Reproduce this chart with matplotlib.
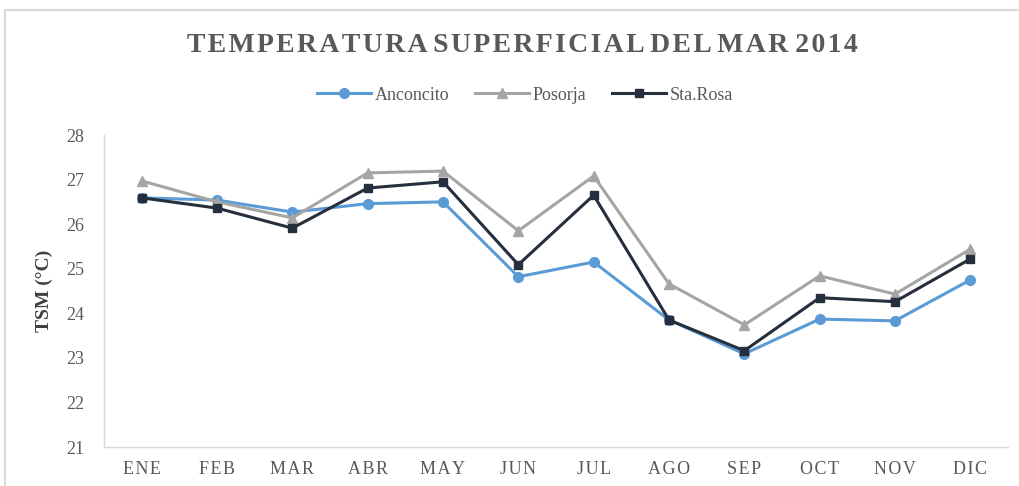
import matplotlib
matplotlib.use('Agg')
import matplotlib.pyplot as plt
from matplotlib.patches import Rectangle

meses = ['ENE', 'FEB', 'MAR', 'ABR', 'MAY', 'JUN', 'JUL', 'AGO', 'SEP', 'OCT', 'NOV', 'DIC']
anconcito = [26.59, 26.54, 26.27, 26.46, 26.50, 24.82, 25.15, 23.85, 23.09, 23.87, 23.83, 24.75]
posorja = [26.97, 26.50, 26.14, 27.15, 27.19, 25.85, 27.08, 24.66, 23.74, 24.84, 24.43, 25.44]
sta_rosa = [26.59, 26.36, 25.91, 26.81, 26.95, 25.09, 26.65, 23.85, 23.16, 24.35, 24.26, 25.22]
y_ticks = [21, 22, 23, 24, 25, 26, 27, 28]

plt.rcParams['font.family'] = ['Liberation Serif', 'DejaVu Serif']


def espaciar(texto):
    # separa las letras con un espacio fino, como el titulo original
    return ' '.join('\u200a'.join(p) for p in texto.split(' '))


W, H = 1020, 486
fig = plt.figure(figsize=(W / 100, H / 100), dpi=100)
ax = fig.add_axes([104 / W, 1 - 447 / H, (1008 - 104) / W, (447 - 135) / H])

x = list(range(len(meses)))
ax.plot(x, anconcito, color='#5b9bd5', lw=2.2, marker='o', ms=7, label='Anconcito')
ax.plot(x, posorja, color='#a5a5a5', lw=2.2, marker='^', ms=7, label='Posorja')
ax.plot(x, sta_rosa, color='#262f3d', lw=2.2, marker='s', ms=6, label='Sta.Rosa')

ax.set_xlim(-0.5, len(meses) - 0.5)
ax.set_ylim(21, 28)
ax.set_yticks(y_ticks)
ax.set_xticks(x)
ax.set_xticklabels([espaciar(m) for m in meses])
ax.tick_params(axis='x', length=0, pad=10, labelsize=13, labelcolor='#595959')
ax.tick_params(axis='y', length=0, pad=14, labelsize=13, labelcolor='#595959')

for s in ['top', 'right']:
    ax.spines[s].set_visible(False)
for s in ['left', 'bottom']:
    ax.spines[s].set_color('#d9d9d9')
    ax.spines[s].set_linewidth(1)

ax.set_ylabel('TSM (°C)', fontsize=14, fontweight='bold', color='#404040')
ax.yaxis.set_label_coords((53 - 104) / (1008 - 104), 0.5)

fig.text(522 / W, 1 - 45 / H, espaciar('TEMPERATURA SUPERFICIAL DEL MAR 2014'),
         ha='center', va='center', fontsize=20, fontweight='bold', color='#595959')

ax.legend(loc='center', bbox_to_anchor=(525 / W, 1 - 95 / H), bbox_transform=fig.transFigure,
          ncol=3, frameon=False, fontsize=13, handlelength=3.0, columnspacing=1.4,
          handletextpad=0.2, labelcolor='#595959')

fig.patches.append(Rectangle((5 / W, -0.1), 1.1, 1 - 10 / H + 0.1, transform=fig.transFigure,
                             fill=False, edgecolor='#d9d9d9', lw=1.5))

fig.savefig('out.png', dpi=100)
